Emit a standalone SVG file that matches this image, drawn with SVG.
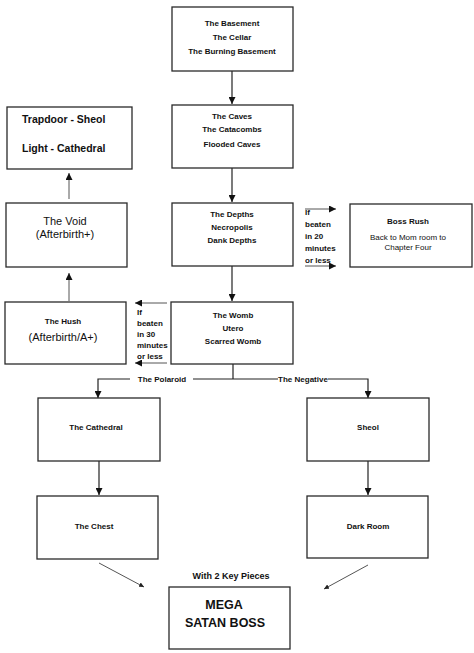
<svg xmlns="http://www.w3.org/2000/svg" width="474" height="653" viewBox="0 0 474 653">
<style>
.box{fill:#fff;stroke:#2a2a2a;stroke-width:1.3}
.b{font-family:"Liberation Sans",Arial,sans-serif;font-weight:bold;font-size:8px;fill:#111;text-anchor:middle}
.r{font-family:"Liberation Sans",Arial,sans-serif;font-size:8px;fill:#111;text-anchor:middle}
.l{text-anchor:start}
.ln{fill:none;stroke:#222;stroke-width:1.2}
.thin{fill:none;stroke:#555;stroke-width:1}
</style>
<defs>
<marker id="ah" viewBox="0 0 10 10" refX="10" refY="5" markerWidth="7" markerHeight="7" markerUnits="userSpaceOnUse" orient="auto">
<path d="M0,0 L10,5 L0,10 z" fill="#111"/>
</marker>
<marker id="ahs" viewBox="0 0 10 10" refX="10" refY="5" markerWidth="5" markerHeight="5" markerUnits="userSpaceOnUse" orient="auto">
<path d="M0,0 L10,5 L0,10 z" fill="#222"/>
</marker>
</defs>
<rect width="474" height="653" fill="#fff"/>
<g id="connectors">
<line class="ln" x1="232" y1="71" x2="232" y2="104" marker-end="url(#ah)"/>
<line class="ln" x1="232" y1="168" x2="232" y2="202" marker-end="url(#ah)"/>
<line class="ln" x1="232" y1="266" x2="232" y2="301" marker-end="url(#ah)"/>
<line class="thin" x1="305" y1="209" x2="336" y2="209" marker-end="url(#ah)"/>
<line class="thin" x1="305" y1="266" x2="336" y2="266" marker-end="url(#ah)"/>
<line class="thin" x1="167" y1="303" x2="135" y2="303" marker-end="url(#ah)"/>
<line class="thin" x1="167" y1="363" x2="135" y2="363" marker-end="url(#ah)"/>
<line class="thin" x1="69" y1="301" x2="69" y2="273" marker-end="url(#ah)"/>
<line class="thin" x1="69" y1="199" x2="69" y2="173" marker-end="url(#ah)"/>
<line class="ln" x1="233" y1="364" x2="233" y2="379"/>
<polyline class="ln" points="130,379 98,379 98,398" marker-end="url(#ah)"/>
<line class="ln" x1="193" y1="379" x2="278" y2="379"/>
<polyline class="ln" points="328,379 368,379 368,398" marker-end="url(#ah)"/>
<line class="ln" x1="99" y1="461" x2="99" y2="495" marker-end="url(#ah)"/>
<line class="ln" x1="368" y1="461" x2="368" y2="495" marker-end="url(#ah)"/>
<line class="thin" x1="99" y1="563" x2="144" y2="587" marker-end="url(#ahs)"/>
<line class="thin" x1="368" y1="565" x2="324" y2="589" marker-end="url(#ahs)"/>
<text class="b" x="162" y="382">The Polaroid</text>
<text class="b" x="303" y="382">The Negative</text>
<text class="b l" x="305" y="215">If</text>
<text class="b l" x="305" y="227">beaten</text>
<text class="b l" x="305" y="239">in 20</text>
<text class="b l" x="305" y="251">minutes</text>
<text class="b l" x="305" y="263">or less</text>
<text class="b l" x="137" y="315">If</text>
<text class="b l" x="137" y="326">beaten</text>
<text class="b l" x="137" y="337">in 30</text>
<text class="b l" x="137" y="348">minutes</text>
<text class="b l" x="137" y="359">or less</text>
<text class="b" x="231" y="579" style="font-size:9px">With 2 Key Pieces</text>
</g>
<g id="basement">
<rect class="box" x="172" y="7" width="121" height="64"/>
<text class="b" x="232" y="26">The Basement</text>
<text class="b" x="232" y="39.5">The Cellar</text>
<text class="b" x="232" y="53.5">The Burning Basement</text>
</g>
<g id="caves">
<rect class="box" x="172" y="105" width="121" height="63"/>
<text class="b" x="232" y="118.5">The Caves</text>
<text class="b" x="232" y="132">The Catacombs</text>
<text class="b" x="232" y="147">Flooded Caves</text>
</g>
<g id="depths">
<rect class="box" x="172" y="203" width="121" height="63"/>
<text class="b" x="232" y="216.5">The Depths</text>
<text class="b" x="232" y="230">Necropolis</text>
<text class="b" x="232" y="243">Dank Depths</text>
</g>
<g id="bossrush">
<rect class="box" x="350" y="204" width="122" height="63"/>
<text class="b" x="408" y="224">Boss Rush</text>
<text class="r" x="408" y="239.5">Back to Mom room to</text>
<text class="r" x="408" y="250">Chapter Four</text>
</g>
<g id="womb">
<rect class="box" x="171" y="302" width="122" height="62"/>
<text class="b" x="233" y="318">The Womb</text>
<text class="b" x="233" y="330.5">Utero</text>
<text class="b" x="233" y="343.5">Scarred Womb</text>
</g>
<g id="trapdoor">
<rect class="box" x="7" y="107" width="125" height="62"/>
<text class="b l" x="22" y="123" style="font-size:10.5px">Trapdoor - Sheol</text>
<text class="b l" x="22" y="152" style="font-size:10.5px">Light - Cathedral</text>
</g>
<g id="void">
<rect class="box" x="6" y="203" width="121" height="64"/>
<text class="r" x="65" y="225" style="font-size:11px">The Void</text>
<text class="r" x="65" y="238" style="font-size:11px">(Afterbirth+)</text>
</g>
<g id="hush">
<rect class="box" x="5" y="302" width="121" height="62"/>
<text class="b" x="63" y="323.5">The Hush</text>
<text class="r" x="63" y="340.5" style="font-size:11px">(Afterbirth/A+)</text>
</g>
<g id="cathedral">
<rect class="box" x="38" y="398" width="122" height="63"/>
<text class="b" x="96" y="429.5">The Cathedral</text>
</g>
<g id="sheol">
<rect class="box" x="307" y="398" width="122" height="63"/>
<text class="b" x="368" y="429.5">Sheol</text>
</g>
<g id="chest">
<rect class="box" x="37" y="496" width="121" height="63"/>
<text class="b" x="94" y="528.5">The Chest</text>
</g>
<g id="darkroom">
<rect class="box" x="307" y="496" width="121" height="62"/>
<text class="b" x="368" y="528.5">Dark Room</text>
</g>
<g id="megasatan">
<rect class="box" x="169" y="587" width="121" height="62"/>
<text class="b" x="224" y="609" style="font-size:12.5px">MEGA</text>
<text class="b" x="225" y="627" style="font-size:12.5px">SATAN BOSS</text>
</g>
</svg>
